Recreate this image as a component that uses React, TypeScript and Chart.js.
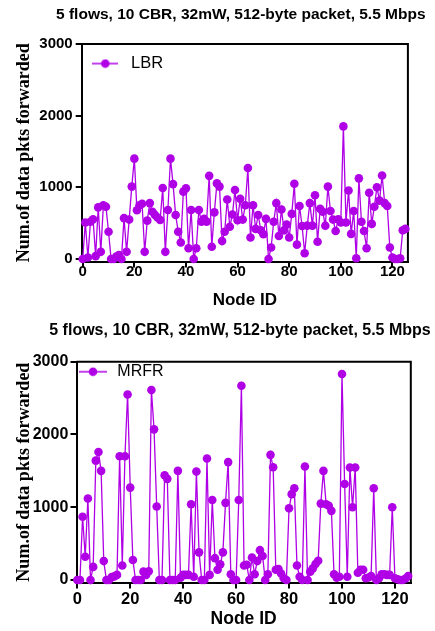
import React, { useEffect, useRef } from 'react';
import { Chart, registerables } from 'chart.js';

Chart.register(...registerables);

const nodeIds = [
  0, 1, 2, 3, 4, 5, 6, 7, 8, 9, 10, 11, 12, 13, 14, 15, 16, 17, 18, 19,
  20, 21, 22, 23, 24, 25, 26, 27, 28, 29, 30, 31, 32, 33, 34, 35, 36, 37, 38, 39,
  40, 41, 42, 43, 44, 45, 46, 47, 48, 49, 50, 51, 52, 53, 54, 55, 56, 57, 58, 59,
  60, 61, 62, 63, 64, 65, 66, 67, 68, 69, 70, 71, 72, 73, 74, 75, 76, 77, 78, 79,
  80, 81, 82, 83, 84, 85, 86, 87, 88, 89, 90, 91, 92, 93, 94, 95, 96, 97, 98, 99,
  100, 101, 102, 103, 104, 105, 106, 107, 108, 109, 110, 111, 112, 113, 114, 115, 116, 117, 118, 119,
  120, 121, 122, 123, 124, 125,
];

const lbrPackets = [
  0, 510, 20, 520, 555, 40, 720, 100, 750, 730, 380, 0, 0, 35, 55, 0, 570, 100, 550, 1010,
  1400, 680, 750, 770, 100, 535, 780, 660, 615, 580, 545, 990, 100, 683, 1400, 1045, 614, 381, 230, 940,
  986, 150, 683, 0, 150, 683, 521, 560, 521, 1160, 170, 650, 1055, 1010, 250, 380, 830, 450, 620, 963,
  540, 840, 550, 750, 1270, 300, 750, 420, 614, 400, 345, 560, 0, 160, 520, 780, 320, 690, 400, 480,
  300, 630, 1050, 200, 740, 460, 80, 465, 780, 465, 890, 240, 700, 660, 465, 1010, 670, 550, 390, 555,
  510, 1850, 510, 955, 350, 670, 10, 1125, 520, 390, 150, 925, 490, 730, 1000, 815, 1165, 780, 740, 160,
  20, 0, 0, 10, 400, 420,
];

const mrfrPackets = [
  0, 0, 870, 320, 1120, 0, 180, 1640, 1760, 1500, 260, 0, 0, 40, 50, 70, 1700, 200, 1700, 2550,
  1270, 275, 0, 0, 0, 115, 70, 120, 2610, 2070, 1010, 0, 0, 1440, 1390, 0, 0, 0, 1500, 30,
  70, 70, 70, 1040, 45, 1490, 380, 0, 0, 1670, 70, 1100, 300, 140, 215, 380, 1060, 1620, 80, 0,
  0, 1100, 2670, 200, 210, 0, 310, 80, 260, 410, 330, 0, 80, 1720, 1550, 140, 150, 90, 25, 0,
  985, 1180, 1260, 200, 45, 0, 1560, 0, 115, 160, 220, 265, 1050, 1500, 1040, 1020, 950, 80, 30, 45,
  2830, 1320, 45, 1545, 1000, 1545, 100, 140, 140, 25, 35, 55, 1260, 0, 25, 80, 80, 70, 70, 1000,
  25, 10, 0, 0, 20, 55,
];

const xTickValues = [0, 20, 40, 60, 80, 100, 120];
const yTickValues = [0, 1000, 2000, 3000];

const chartTitle = '5 flows, 10 CBR, 32mW, 512-byte packet, 5.5 Mbps';
const xAxisTitle = 'Node ID';
const yAxisTitle = 'Num.of data pkts forwarded';

const PURPLE = '#b000e6';
const SANS = "'Liberation Sans', Arial, sans-serif";
const SERIF = "'Liberation Serif', 'Times New Roman', serif";

type PanelSpec = {
  label: string;
  values: number[];
  height: number;
  titleSize: number;
  titleCenter: number;
  titlePadTop: number;
  titlePadBottom: number;
  yAxisWidth: number;
  xAxisHeight: number;
  rightPad: number;
  xMin: number;
  xMax: number;
  yMin: number;
  xTickSize: number;
  yTickSize: number;
  xTickPad: number;
  yTickPad: number;
  xTitleSize: number;
  xTitlePadBottom: number;
  yTitlePadTop: number;
  legendSize: number;
  legendSymbolWidth: number;
  legendBoxWidth: number;
  legendDx: number;
  legendDy: number;
};

function makeLegendSymbol(width: number): HTMLCanvasElement {
  const c = document.createElement('canvas');
  c.width = width;
  c.height = 10;
  const ctx = c.getContext('2d')!;
  ctx.strokeStyle = PURPLE;
  ctx.lineWidth = 1.5;
  ctx.beginPath();
  ctx.moveTo(0, 5);
  ctx.lineTo(width, 5);
  ctx.stroke();
  ctx.fillStyle = PURPLE;
  ctx.beginPath();
  ctx.arc(width / 2, 5, 4.3, 0, Math.PI * 2);
  ctx.fill();
  return c;
}

const framePlugin = {
  id: 'frameBox',
  beforeDatasetsDraw(chart: any) {
    const { ctx, chartArea: a } = chart;
    ctx.save();
    ctx.strokeStyle = '#000';
    ctx.lineWidth = 2;
    ctx.beginPath();
    ctx.moveTo(a.left, a.top);
    ctx.lineTo(a.right, a.top);
    ctx.lineTo(a.right, a.bottom);
    ctx.stroke();
    ctx.restore();
  },
};

// Places the legend inside the plot and centres the title over the given x position.
const boxPlacementPlugin = {
  id: 'boxPlacement',
  afterLayout(chart: any, _args: any, opts: any) {
    const lg = chart.legend;
    if (lg) {
      lg.left = chart.chartArea.left + (opts.dx || 0);
      lg.top = chart.chartArea.top + (opts.dy || 0);
    }
    const tb = chart.titleBlock;
    if (tb && opts.titleCenter) {
      tb.left = opts.titleCenter - 215;
      tb.right = opts.titleCenter + 215;
      tb.width = 430;
    }
  },
};

function Panel({ spec }: { spec: PanelSpec }) {
  const ref = useRef<HTMLCanvasElement>(null);
  useEffect(() => {
    const symbol = makeLegendSymbol(spec.legendSymbolWidth);
    const chart = new Chart(ref.current!, {
      type: 'line',
      data: {
        datasets: [
          {
            label: spec.label,
            data: nodeIds.map((x, i) => ({ x, y: spec.values[i] })),
            borderColor: PURPLE,
            backgroundColor: PURPLE,
            borderWidth: 1.3,
            pointRadius: 4.3,
            pointBorderWidth: 0,
            pointBackgroundColor: PURPLE,
            tension: 0,
            clip: false as any,
          },
        ],
      },
      options: {
        responsive: false,
        animation: false,
        events: [],
        layout: { padding: { left: 0, right: spec.rightPad, top: 0, bottom: 0 } },
        scales: {
          x: {
            type: 'linear',
            min: spec.xMin,
            max: spec.xMax,
            afterBuildTicks: (ax: any) => {
              ax.ticks = xTickValues.map((v) => ({ value: v }));
            },
            afterFit: (s: any) => {
              s.height = spec.xAxisHeight;
            },
            ticks: {
              autoSkip: false,
              maxRotation: 0,
              color: '#000',
              padding: spec.xTickPad,
              font: { family: SANS, size: spec.xTickSize, weight: 'bold' },
              callback: (v: any) => String(v),
            },
            grid: {
              display: true,
              drawOnChartArea: false,
              drawTicks: true,
              tickLength: 6,
              color: '#000',
              lineWidth: 2,
            },
            border: { display: true, color: '#000', width: 2 },
            title: {
              display: true,
              text: xAxisTitle,
              color: '#000',
              font: { family: SANS, size: spec.xTitleSize, weight: 'bold' },
              padding: { top: 0, bottom: spec.xTitlePadBottom },
            },
          },
          y: {
            type: 'linear',
            min: spec.yMin,
            max: 3000,
            afterBuildTicks: (ax: any) => {
              ax.ticks = yTickValues.map((v) => ({ value: v }));
            },
            afterFit: (s: any) => {
              s.width = spec.yAxisWidth;
            },
            ticks: {
              autoSkip: false,
              color: '#000',
              padding: spec.yTickPad,
              font: { family: SANS, size: spec.yTickSize, weight: 'bold' },
              callback: (v: any) => String(v),
            },
            grid: {
              display: true,
              drawOnChartArea: false,
              drawTicks: true,
              tickLength: 6,
              color: '#000',
              lineWidth: 2,
            },
            border: { display: true, color: '#000', width: 2 },
            title: {
              display: true,
              text: yAxisTitle,
              color: '#000',
              font: { family: SERIF, size: 18, weight: 'bold' },
              padding: { top: spec.yTitlePadTop, bottom: 0 },
            },
          },
        },
        plugins: {
          title: {
            display: true,
            text: chartTitle,
            color: '#000',
            fullSize: false,
            font: { family: SANS, size: spec.titleSize, weight: 'bold' },
            padding: { top: spec.titlePadTop, bottom: spec.titlePadBottom },
          },
          legend: {
            display: true,
            position: 'chartArea' as any,
            align: 'start',
            labels: {
              usePointStyle: true,
              pointStyleWidth: spec.legendBoxWidth,
              padding: 0,
              color: '#000',
              font: { family: SANS, size: spec.legendSize },
              generateLabels: () => [
                {
                  text: spec.label,
                  pointStyle: symbol as any,
                  fillStyle: PURPLE,
                  strokeStyle: PURPLE,
                  fontColor: '#000',
                  lineWidth: 0,
                  hidden: false,
                  datasetIndex: 0,
                } as any,
              ],
            },
          },
          tooltip: { enabled: false },
          boxPlacement: {
            dx: spec.legendDx,
            dy: spec.legendDy,
            titleCenter: spec.titleCenter,
          },
        } as any,
      },
      plugins: [framePlugin, boxPlacementPlugin],
    } as any);
    return () => chart.destroy();
  }, []);
  return (
    <canvas
      ref={ref}
      width={435}
      height={spec.height}
      style={{ display: 'block', width: 435, height: spec.height }}
    />
  );
}

const topSpec: PanelSpec = {
  label: 'LBR',
  values: lbrPackets,
  height: 320,
  titleSize: 15.5,
  titleCenter: 240.8,
  titlePadTop: 5.4,
  titlePadBottom: 20,
  yAxisWidth: 81.7,
  xAxisHeight: 58.5,
  rightPad: 27.1,
  xMin: -0.4,
  xMax: 126,
  yMin: -35,
  xTickSize: 15,
  yTickSize: 15,
  xTickPad: -4.5,
  yTickPad: 3,
  xTitleSize: 17,
  xTitlePadBottom: 9.8,
  yTitlePadTop: 13.8,
  legendSize: 16.5,
  legendSymbolWidth: 26,
  legendBoxWidth: 35,
  legendDx: 6.1,
  legendDy: 11.3,
};

const bottomSpec: PanelSpec = {
  label: 'MRFR',
  values: mrfrPackets,
  height: 311,
  titleSize: 16,
  titleCenter: 240,
  titlePadTop: 1.2,
  titlePadBottom: 21.3,
  yAxisWidth: 76.5,
  xAxisHeight: 48.45,
  rightPad: 24.2,
  xMin: -0.3,
  xMax: 126,
  yMin: -35,
  xTickSize: 16.5,
  yTickSize: 16,
  xTickPad: 0.75,
  yTickPad: 2.2,
  xTitleSize: 17.5,
  xTitlePadBottom: 1,
  yTitlePadTop: 13.8,
  legendSize: 16,
  legendSymbolWidth: 28,
  legendBoxWidth: 32.6,
  legendDx: 0.2,
  legendDy: 2,
};

export default function App() {
  return (
    <div
      style={{
        position: 'absolute',
        left: 0,
        top: 0,
        width: 435,
        height: 631,
        background: '#fff',
        overflow: 'hidden',
      }}
    >
      <Panel spec={topSpec} />
      <Panel spec={bottomSpec} />
    </div>
  );
}
